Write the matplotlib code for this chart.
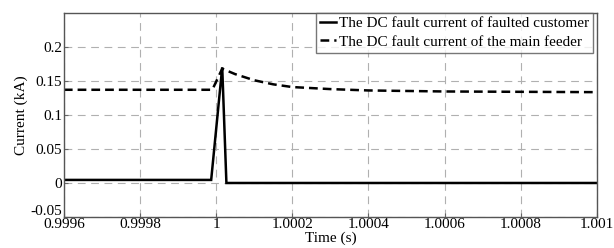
import matplotlib
matplotlib.use("Agg")
import matplotlib.pyplot as plt
from matplotlib.transforms import ScaledTranslation

# values
t_customer = [0.9996, 0.999987, 1.000016, 1.000027, 1.001]
i_customer = [0.0045, 0.0045, 0.170, 0.0, 0.0]

t_feeder = [0.9996, 0.99999, 1.000016, 1.00005, 1.0001, 1.00015, 1.0002,
            1.0003, 1.0004, 1.0006, 1.0008, 1.001]
i_feeder = [0.137, 0.137, 0.168, 0.160, 0.151, 0.145, 0.141,
            0.138, 0.136, 0.1345, 0.134, 0.1335]

x_ticks = [0.9996, 0.9998, 1.0, 1.0002, 1.0004, 1.0006, 1.0008, 1.001]
x_labels = ["0.9996", "0.9998", "1", "1.0002", "1.0004", "1.0006", "1.0008", "1.001"]
y_ticks = [-0.05, 0, 0.05, 0.1, 0.15, 0.2]
y_labels = ["-0.05", "0", "0.05", "0.1", "0.15", "0.2"]

plt.rcParams["font.family"] = ["Liberation Serif", "DejaVu Serif"]

fig = plt.figure(figsize=(6.14, 2.48), dpi=100)
ax = fig.add_axes([0.104, 0.125, 0.868, 0.823])

ax.plot(t_customer, i_customer, color="black", lw=1.8, solid_joinstyle="miter",
        label="The DC fault current of faulted customer")
ax.plot(t_feeder, i_feeder, color="black", lw=1.8, ls=(0, (3.5, 2)),
        label="The DC fault current of the main feeder")

ax.set_xlim(0.9996, 1.001)
ax.set_ylim(-0.05, 0.25)
ax.set_xticks(x_ticks)
ax.set_xticklabels(x_labels)
ax.set_yticks(y_ticks)
ax.set_yticklabels(y_labels)
ax.tick_params(direction="in", length=3, labelsize=11, pad=1, color="#666666")
ax.grid(True, color="#b0b0b0", ls=(0, (7, 5)), lw=0.8)

# lift the bottom y label a little, as in the original
lbl = ax.get_yticklabels()[0]
lbl.set_transform(lbl.get_transform() + ScaledTranslation(0, 5 / 72, fig.dpi_scale_trans))

for s in ax.spines.values():
    s.set_color("#555555")
    s.set_linewidth(1.0)

ax.set_xlabel("Time (s)", fontsize=11, labelpad=0)
ax.set_ylabel("Current (kA)", fontsize=11, labelpad=2)

leg = ax.legend(loc="upper right", bbox_to_anchor=(0.992, 1.0), fontsize=11,
                frameon=True, fancybox=False, handlelength=1.0, handletextpad=0.2,
                borderpad=0.25, labelspacing=0.3, borderaxespad=0)
leg.get_frame().set_edgecolor("#555555")
leg.get_frame().set_linewidth(1.0)

fig.savefig("out.png", dpi=100)
